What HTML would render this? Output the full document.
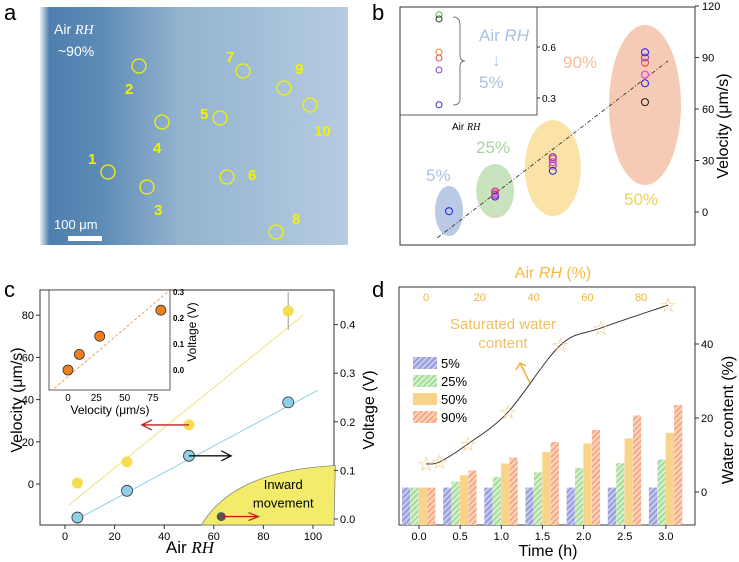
<!DOCTYPE html>
<html><head><meta charset="utf-8"><style>
body{margin:0;background:#fff;}
svg{display:block;font-family:"Liberation Sans",sans-serif;}
</style></head><body>
<svg id="s" width="739" height="562" viewBox="0 0 739 562">
<defs>
<linearGradient id="pg" x1="0" x2="1" y1="0" y2="0">
<stop offset="0" stop-color="#e8eef4"/><stop offset="0.03" stop-color="#4f7fae"/><stop offset="0.2" stop-color="#5d8bb6"/><stop offset="0.45" stop-color="#93b3cf"/><stop offset="1" stop-color="#b5cce0"/></linearGradient>
<pattern id="h1" width="4" height="4" patternUnits="userSpaceOnUse" patternTransform="rotate(45)"><rect width="4" height="4" fill="#c5c8ee"/><rect width="1.6" height="4" fill="#8f95d8"/></pattern>
<pattern id="h2" width="4" height="4" patternUnits="userSpaceOnUse" patternTransform="rotate(45)"><rect width="4" height="4" fill="#d6efcf"/><rect width="1.6" height="4" fill="#9fd88f"/></pattern>
<pattern id="h4" width="4" height="4" patternUnits="userSpaceOnUse" patternTransform="rotate(45)"><rect width="4" height="4" fill="#fbd3bd"/><rect width="1.6" height="4" fill="#f5a27a"/></pattern>
</defs>
<!-- panel a -->
<g>
<text x="4" y="20" font-size="22">a</text>
<rect x="40" y="7" width="308" height="238" fill="url(#pg)"/>
<text x="54" y="34" font-size="14" fill="#fff">Air <tspan font-family="Liberation Serif" font-style="italic">RH</tspan></text>
<text x="58" y="56" font-size="14" fill="#fff">~90%</text>
<text x="54" y="229" font-size="13" fill="#fff">100 μm</text>
<rect x="68" y="236" width="34" height="5" fill="#fff"/>
<g id="acirc" fill="none" stroke="#f2f200" stroke-width="1.3"></g>
<g id="alab" fill="#f2f200" font-size="15" font-weight="bold"></g>
</g>
<!-- panel b -->
<g>
<text x="372" y="20" font-size="22">b</text>
<g id="bg"></g>
<rect x="400" y="7" width="295" height="238" fill="none" stroke="#333"/>
<text transform="translate(728,126) rotate(-90)" text-anchor="middle" font-size="16">Velocity (μm/s)</text>
</g>
<!-- panel c -->
<g>
<text x="4" y="297" font-size="22">c</text>
<g id="cg"></g>
<text transform="translate(22,400) rotate(-90)" text-anchor="middle" font-size="16">Velocity (μm/s)</text>
<text transform="translate(374,410) rotate(-90)" text-anchor="middle" font-size="16">Voltage (V)</text>
<text x="190" y="553" text-anchor="middle" font-size="17">Air <tspan font-style="italic" font-family="Liberation Serif">RH</tspan></text>
</g>
<!-- panel d -->
<g>
<text x="372" y="297" font-size="22">d</text>
<g id="dg"></g>
<text x="553" y="278" text-anchor="middle" font-size="16" fill="#f5b942">Air <tspan font-style="italic">RH</tspan> (%)</text>
<text transform="translate(733,420) rotate(-90)" text-anchor="middle" font-size="16">Water content (%)</text>
<text x="548" y="556" text-anchor="middle" font-size="16">Time (h)</text>
</g>
</svg>
<script>
const NS='http://www.w3.org/2000/svg';
// ---- data ----
const aLabels=['1','2','3','4','5','6','7','8','9','10'];
const aCircX=[108,139,147,162,220,227,243,276,284,310];
const aCircY=[172,66,187,122,118,177,71,232,88,105];
const bGroups=[5,25,50,90];
const bGroupVel=[[0.5],[9,10,11,12],[24,27,29,31,32],[64,75,80,87,90,93]];
const bGroupLabels=['5%','25%','50%','90%'];
const bInsetVals=[0.79,0.765,0.57,0.535,0.465,0.26];
const bInsetColors=['#3fbf3f','#333','#f08a2a','#e04848','#8a3ae0','#2a2ae0'];
const bVelTicks=[0,30,60,90,120];
const cRH=[5,25,50,90];
const cVel=[0.5,10.5,28,82];
const cVelErr=[2,1.5,2.5,9];
const cVolt=[0.003,0.058,0.13,0.24];
const cXTicks=[0,20,40,60,80,100];
const cVelTicks=[0,20,40,60,80];
const cVoltTicks=[0.0,0.1,0.2,0.3,0.4];
const cInVel=[0,10,28,82];
const cInVolt=[0,0.06,0.13,0.23];
const dTimes=[0,0.5,1,1.5,2,2.5,3];
const dS5=[1.2,1.2,1.2,1.2,1.2,1.2,1.2];
const dS25=[1.2,2.8,4.1,5.3,6.5,7.8,8.8];
const dS50=[1.2,4.5,7.7,10.8,13.1,14.5,16];
const dS90=[1.2,5.8,9.3,13.5,16.8,20.7,23.5];
const dStarRH=[0,5,15.6,30.5,50,65,90];
const dStarW=[7.6,8.1,13,21.6,39.7,44.3,50.5];
const dWTicks=[0,20,40];
const dRHTicks=[0,20,40,60,80];

function mk(p,t,a,txt){const e=document.createElementNS(NS,t);for(const k in a)e.setAttribute(k,a[k]);if(txt!==undefined)e.textContent=txt;p.appendChild(e);return e;}
const $=id=>document.getElementById(id);

// panel a
aCircX.forEach((x,i)=>{const c=mk($('acirc'),'circle',{cx:x,cy:aCircY[i],r:7});

});
const aLX=[88,125,154,153,200,248,226,292,295,314],aLY=[164,94,215,153,119,180,62,224,74,136];
aLabels.forEach((l,i)=>{const t=mk($('alab'),'text',{x:aLX[i],y:aLY[i]},l);

});

// panel b
const bx=v=>449+(v-5)*(645-449)/85, by=v=>212-v*51.5/30;
const bg=$('bg');
const ell=[[14,25,'#b9c9e6'],[19,27,'#c9e3bf'],[28,48,'#fbe3a8'],[36,80,'#f6cbb5']];
const ecy=[211,191,168,105];
const lblC=['#a9c2e3','#a6d49a','#f6cf5a','#f5bd9a'];
const lblX=[426,476,624,563],lblY=[181,153,205,68];
bGroups.forEach((g,i)=>{const e=mk(bg,'ellipse',{cx:bx(g),cy:ecy[i],rx:ell[i][0],ry:ell[i][1],fill:ell[i][2]});


const t=mk(bg,'text',{x:lblX[i],y:lblY[i],'font-size':17,fill:lblC[i]},bGroupLabels[i]);

});
const ln=mk(bg,'line',{x1:bx(0),y1:by(-15),x2:bx(100),y2:by(88),stroke:'#222','stroke-dasharray':'4 2 1 2','stroke-width':0.8});


const pc=['#2a2ae0','#8a3ae0','#e040e0','#e04848','#8a3ae0','#2a2ae0','#222'];
bGroups.forEach((g,i)=>bGroupVel[i].forEach((v,j)=>{const c=mk(bg,'circle',{cx:bx(g),cy:by(v),r:3.5,fill:'none',stroke:i==3?['#222','#2a2ae0','#e040e0','#e04848','#8a3ae0','#2a2ae0'][j]:pc[j%pc.length],'stroke-width':1.1});

}));
bVelTicks.forEach(v=>{mk(bg,'line',{x1:695,x2:699,y1:by(v),y2:by(v),stroke:'#333'});
const t=mk(bg,'text',{x:702,y:by(v)+4,'font-size':11},v);

});
// inset b
const ib=mk(bg,'rect',{x:400,y:7,width:137,height:108,fill:'#fff',stroke:'#333','stroke-width':0.8});


const iby=v=>47+(0.6-v)*170;
[0.3,0.6].forEach(v=>{mk(bg,'line',{x1:537,x2:540,y1:iby(v),y2:iby(v),stroke:'#333'});
const t=mk(bg,'text',{x:542,y:iby(v)+4,'font-size':10},v);

});
bInsetVals.forEach((v,i)=>{const c=mk(bg,'circle',{cx:439,cy:iby(v),r:3,fill:'none',stroke:bInsetColors[i],'stroke-width':1});

});
mk(bg,'path',{d:'M453,17 Q460,17 460,25 V55 Q460,61 465,61 Q460,61 460,67 V99 Q460,105 453,105',fill:'none',stroke:'#777'});
const tb=mk(bg,'text',{x:479,y:41,'font-size':17,fill:'#a9c2e3'});tb.innerHTML='Air <tspan font-style="italic">RH</tspan>';


mk(bg,'text',{x:492,y:66,'font-size':17,fill:'#a9c2e3'},'↓');
mk(bg,'text',{x:479,y:88,'font-size':17,fill:'#a9c2e3'},'5%');
const tb2=mk(bg,'text',{x:452,y:130,'font-size':10});tb2.innerHTML='Air <tspan font-style="italic" font-family="Liberation Serif">RH</tspan>';



// panel c
const cg=$('cg');
const cx=v=>65+v*2.48, cyV=v=>484-v*2.11, cyU=v=>519-v*486;
const fr=mk(cg,'rect',{x:40,y:290,width:294,height:235,fill:'none',stroke:'#333'});


const inward=mk(cg,'path',{d:`M${cx(55)},525 Q${cx(68)},${cyU(0.1)} ${cx(109)},${cyU(0.11)} L334,525 Z`,fill:'#f3ec6a',stroke:'#777','stroke-width':0.7});


const it=mk(cg,'text',{x:cx(88),y:cyU(0.062),'font-size':13,'text-anchor':'middle'},'Inward');


mk(cg,'text',{x:cx(88),y:cyU(0.024),'font-size':13,'text-anchor':'middle'},'movement');
mk(cg,'line',{x1:cx(1.5),y1:cyV(-10),x2:cx(96),y2:cyV(80),stroke:'#f3e27a','stroke-width':1});
mk(cg,'line',{x1:cx(5),y1:cyU(0),x2:cx(102),y2:cyU(0.265),stroke:'#8fd0e6','stroke-width':1});
cRH.forEach((r,i)=>{mk(cg,'line',{x1:cx(r),x2:cx(r),y1:cyV(cVel[i]-cVelErr[i]),y2:cyV(cVel[i]+cVelErr[i]),stroke:'#999'});
const c=mk(cg,'circle',{cx:cx(r),cy:cyV(cVel[i]),r:5.5,fill:'#f5dc50'});


const d=mk(cg,'circle',{cx:cx(r),cy:cyU(cVolt[i]),r:5.5,fill:'#8fd0e8',stroke:'#333','stroke-width':0.8});

});
mk(cg,'circle',{cx:cx(63),cy:cyU(0.005),r:4.5,fill:'#555'});
mk(cg,'path',{d:`M${cx(63)},${cyU(0.005)} H${cx(78)} M${cx(74)},${cyU(0.005)-4} L${cx(78)},${cyU(0.005)} L${cx(74)},${cyU(0.005)+4}`,fill:'none',stroke:'#c02020','stroke-width':1.3});
mk(cg,'path',{d:`M${cx(50)},${cyV(28)} H${cx(31)} M${cx(35)},${cyV(28)-5} L${cx(31)},${cyV(28)} L${cx(35)},${cyV(28)+5}`,fill:'none',stroke:'#c02020','stroke-width':1.3});
mk(cg,'path',{d:`M${cx(50)},${cyU(0.13)} H${cx(67)} M${cx(63)},${cyU(0.13)-5} L${cx(67)},${cyU(0.13)} L${cx(63)},${cyU(0.13)+5}`,fill:'none',stroke:'#111','stroke-width':1.3});
cXTicks.forEach(v=>{mk(cg,'line',{x1:cx(v),x2:cx(v),y1:525,y2:529,stroke:'#333'});
const t=mk(cg,'text',{x:cx(v),y:540,'font-size':11,'text-anchor':'middle'},v);

});
cVelTicks.forEach(v=>{mk(cg,'line',{x1:36,x2:40,y1:cyV(v),y2:cyV(v),stroke:'#333'});
const t=mk(cg,'text',{x:34,y:cyV(v)+4,'font-size':11,'text-anchor':'end'},v);

});
cVoltTicks.forEach(v=>{mk(cg,'line',{x1:334,x2:338,y1:cyU(v),y2:cyU(v),stroke:'#333'});
const t=mk(cg,'text',{x:340,y:cyU(v)+4,'font-size':11},v.toFixed(1));

});
// inset c
const ix=v=>68+v*1.133, iy=v=>370-v*260;
mk(cg,'rect',{x:49,y:290,width:121,height:100,fill:'#fff',stroke:'#333','stroke-width':0.8});
mk(cg,'line',{x1:ix(-12),y1:iy(-0.07),x2:ix(88),y2:iy(0.3),stroke:'#f0a060','stroke-dasharray':'3 2'});
cInVel.forEach((v,i)=>{const c=mk(cg,'circle',{cx:ix(v),cy:iy(cInVolt[i]),r:5,fill:'#f07f1a',stroke:'#333','stroke-width':0.8});

});
[0,25,50,75].forEach(v=>{mk(cg,'text',{x:ix(v),y:401,'font-size':10,'text-anchor':'middle'},v);});
[0,0.1,0.2,0.3].forEach(v=>{mk(cg,'text',{x:173,y:iy(v)+3,'font-size':8,'font-weight':'bold'},v.toFixed(1));});
mk(cg,'text',{x:110,y:414,'font-size':12,'text-anchor':'middle'},'Velocity (μm/s)');
mk(cg,'text',{transform:'translate(196,332) rotate(-90)','font-size':12,'text-anchor':'middle'},'Voltage (V)');

// panel d
const dg=$('dg');
const dx=t=>419+t*82.3, dyW=v=>492-v*3.7, dxR=r=>426+r*2.69;
mk(dg,'rect',{x:399,y:287,width:296,height:238,fill:'none',stroke:'#333'});
const series=[dS5,dS25,dS50,dS90], fills=['url(#h1)','url(#h2)','#f7d48a','url(#h4)'];
dTimes.forEach((t,i)=>series.forEach((s,k)=>{const b=mk(dg,'rect',{x:dx(t)-17+k*8.4,y:dyW(s[i]),width:8.2,height:525-dyW(s[i]),fill:fills[k]});

}));
const pts=dStarRH.map((r,i)=>[dxR(r),dyW(dStarW[i])]);
let d=`M${pts[0][0]},${pts[0][1]}`;
for(let i=0;i<pts.length-1;i++){const p0=pts[Math.max(0,i-1)],p1=pts[i],p2=pts[i+1],p3=pts[Math.min(pts.length-1,i+2)];
d+=` C${p1[0]+(p2[0]-p0[0])/6},${p1[1]+(p2[1]-p0[1])/6} ${p2[0]-(p3[0]-p1[0])/6},${p2[1]-(p3[1]-p1[1])/6} ${p2[0]},${p2[1]}`;}
const cv=mk(dg,'path',{d:d,fill:'none',stroke:'#333','stroke-width':1});


pts.forEach(p=>{const s=mk(dg,'text',{x:p[0],y:p[1]+7,'font-size':20,'text-anchor':'middle',fill:'#f0c878'},'☆');

});
mk(dg,'text',{x:503,y:329,'font-size':15,'text-anchor':'middle',fill:'#f0c060'},'Saturated water');
mk(dg,'text',{x:503,y:348,'font-size':15,'text-anchor':'middle',fill:'#f0c060'},'content');
mk(dg,'path',{d:'M530,383 L520,363 M516,370 L520,363 L526,366',fill:'none',stroke:'#f0b040','stroke-width':1.5});
const lf=['url(#h1)','url(#h2)','#f7d48a','url(#h4)'],lt=['5%','25%','50%','90%'];
lf.forEach((f,k)=>{mk(dg,'rect',{x:413,y:357+k*18,width:24,height:12,fill:f});
const t=mk(dg,'text',{x:441,y:368+k*18,'font-size':13},lt[k]);

});
dTimes.forEach(t=>{mk(dg,'line',{x1:dx(t),x2:dx(t),y1:525,y2:529,stroke:'#333'});
const l=mk(dg,'text',{x:dx(t),y:540,'font-size':11,'text-anchor':'middle'},t.toFixed(1));

});
dWTicks.forEach(v=>{mk(dg,'line',{x1:695,x2:699,y1:dyW(v),y2:dyW(v),stroke:'#333'});
const l=mk(dg,'text',{x:701,y:dyW(v)+4,'font-size':11},v);

});
dRHTicks.forEach(v=>{const l=mk(dg,'text',{x:dxR(v),y:301,'font-size':11,'text-anchor':'middle',fill:'#f0b040'},v);

});
</script>
</body></html>
